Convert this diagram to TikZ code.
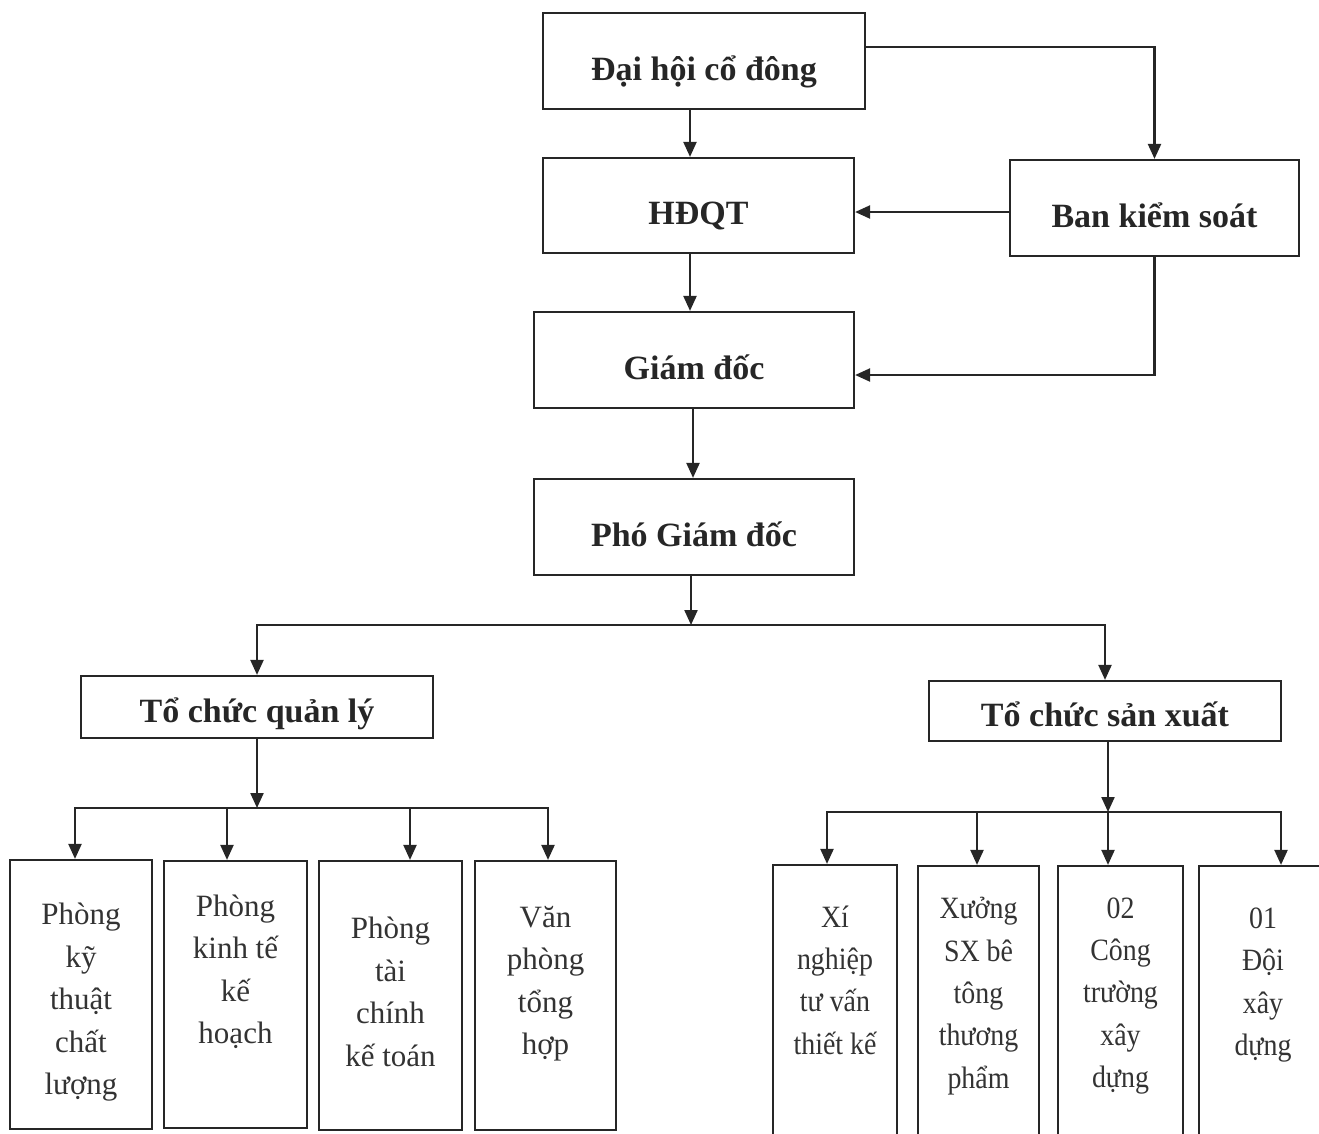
\documentclass[tikz,border=0pt]{standalone}
\usepackage{fontspec}
\setmainfont{Liberation Serif}
\newfontfamily\narrowf[FakeStretch=0.9]{Liberation Serif}
\usetikzlibrary{arrows.meta}
\begin{document}
\begin{tikzpicture}[x=1pt,y=-1pt,
  ln/.style={line width=2.2pt, draw=black!85},
  arr/.style={ln, -{Triangle[length=15pt,width=13pt]}},
  topbox/.style={draw=black!85, line width=2.2pt, inner sep=0pt, text=black!85,
    font=\fontsize{34}{40}\selectfont\bfseries, text height=38pt, text depth=0pt},
  midbox/.style={topbox, text height=30pt},
  lowbox/.style={draw=black!85, line width=2.2pt, inner sep=0pt},
  lowtxt/.style={align=center, inner sep=0pt, text=black!80,
    font=\fontsize{31}{42.5}\selectfont},
  rtxt/.style={align=center, inner sep=0pt, text=black!80,
    font=\narrowf\fontsize{31}{42.3}\selectfont}]
\useasboundingbox (0,0) rectangle (1319,1133);
% top chain
\node[topbox, minimum width=322pt, minimum height=96pt] (dh) at (704,61) {Đại hội cổ đông};
\node[topbox, minimum width=311pt, minimum height=95pt] (hd) at (698.5,205.5) {HĐQT};
\node[topbox, minimum width=289pt, minimum height=96pt] (bks) at (1154.5,208) {Ban kiểm soát};
\node[topbox, minimum width=320pt, minimum height=96pt] (gd) at (694,360) {Giám đốc};
\node[topbox, minimum width=320pt, minimum height=96pt] (pgd) at (694,527) {Phó Giám đốc};
\node[midbox, minimum width=352pt, minimum height=62pt] (tcql) at (257,707) {Tổ chức quản lý};
\node[midbox, minimum width=352pt, minimum height=60pt] (tcsx) at (1105,711) {Tổ chức sản xuất};
% bottom left boxes
\node[lowbox, minimum width=142pt, minimum height=269pt] (b1) at (81,994.5) {};
\node[lowbox, minimum width=143pt, minimum height=267pt] (b2) at (235.5,994.5) {};
\node[lowbox, minimum width=143pt, minimum height=269pt] (b3) at (390.5,995.5) {};
\node[lowbox, minimum width=141pt, minimum height=269pt] (b4) at (545.5,995.5) {};
\node[lowtxt] (b1t) at (81,1002.5) {Phòng\\kỹ\\thuật\\chất\\lượng};
\node[lowtxt] (b2t) at (235.5,972) {Phòng\\kinh tế\\kế\\hoạch};
\node[lowtxt] (b3t) at (390.5,992) {Phòng\\tài\\chính\\kế toán};
\node[lowtxt] (b4t) at (545.5,983.5) {Văn\\phòng\\tổng\\hợp};
% bottom right boxes
\node[lowbox, minimum width=124pt, minimum height=290pt] (r1) at (835,1010) {};
\node[lowbox, minimum width=121pt, minimum height=290pt] (r2) at (978.5,1011) {};
\node[lowbox, minimum width=125pt, minimum height=290pt] (r3) at (1120.5,1011) {};
\node[lowbox, minimum width=128pt, minimum height=290pt] (r4) at (1263,1011) {};
\node[rtxt] (r1t) at (835,980) {Xí\\nghiệp\\tư vấn\\thiết kế};
\node[rtxt] (r2t) at (978.5,996) {Xưởng\\SX bê\\tông\\thương\\phẩm};
\node[rtxt] (r3t) at (1120.5,996) {02\\Công\\trường\\xây\\dựng};
\node[rtxt] (r4t) at (1263,985) {01\\Đội\\xây\\dựng};
% helper coordinates
\coordinate (xa) at (690,0);
\coordinate (xb) at (693,0);
\coordinate (ya) at (0,47);
\coordinate (yb) at (0,212);
\coordinate (yc) at (0,375);
\coordinate (j1) at (691,625);
\coordinate (j2) at (257,808);
\coordinate (j3) at (1108,812);
\coordinate (xl1) at (75,0);
\coordinate (xl2) at (227,0);
\coordinate (xl3) at (410,0);
\coordinate (xl4) at (548,0);
\coordinate (xr1) at (827,0);
\coordinate (xr2) at (977,0);
\coordinate (xr3) at (1108,0);
\coordinate (xr4) at (1281,0);
% connectors
\draw[arr] (dh.south -| xa) -- (hd.north -| xa);
\draw[arr] (hd.south -| xa) -- (gd.north -| xa);
\draw[arr] (gd.south -| xb) -- (pgd.north -| xb);
\draw[arr] (dh.east |- ya) -| (bks.north);
\draw[arr] (bks.west |- yb) -- (hd.east |- yb);
\draw[arr] (bks.south) |- (gd.east |- yc);
\draw[arr] (pgd.south -| j1) -- (j1);
\draw[arr] (j1) -| (tcql.north);
\draw[arr] (j1) -| (tcsx.north);
\draw[arr] (tcql.south) -- (j2);
\draw[arr] (j2) -| (b1.north -| xl1);
\draw[arr] (j2) -| (b4.north -| xl4);
\draw[arr] (j2 -| xl2) -- (b2.north -| xl2);
\draw[arr] (j2 -| xl3) -- (b3.north -| xl3);
\draw[arr] (tcsx.south -| j3) -- (j3);
\draw[arr] (j3) -| (r1.north -| xr1);
\draw[arr] (j3) -| (r4.north -| xr4);
\draw[arr] (j3 -| xr2) -- (r2.north -| xr2);
\draw[arr] (j3) -- (r3.north -| xr3);
\end{tikzpicture}
\end{document}
